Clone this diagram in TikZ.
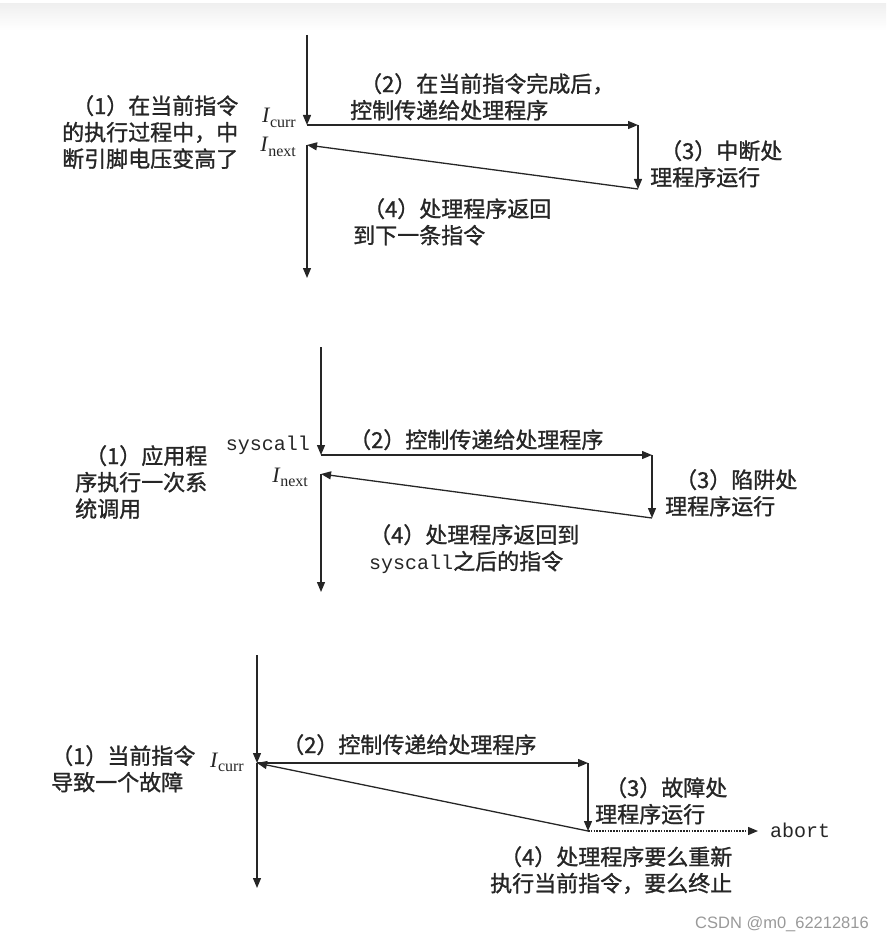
\documentclass[tikz,border=0pt]{standalone}
\usepackage{fontspec}
\setmonofont{Liberation Mono}
\newfontfamily\cjk[FakeBold=1.2]{Noto Sans CJK SC}
\newfontfamily\serif{Liberation Serif}
\usetikzlibrary{arrows.meta}

\newcommand{\firstind}{\hspace*{0.45em}}
\newcommand{\ireg}[1]{{\serif\itshape I}\kern0.5pt\raisebox{-0.22em}{\serif\fontsize{16}{16}\selectfont #1}}

\begin{document}
\begin{tikzpicture}[
                    x=1pt, y=-1pt,
                    every node/.style={inner sep=0pt, text=black!85},
                    line/.style={line width=1.3pt, draw=black!85},
                    flow/.style={line, -{Triangle[length=10pt,width=8pt]}},
                    abortflow/.style={flow, dash pattern=on 1.6pt off 1.2pt},
                    note/.style={font=\cjk\fontsize{22}{26.5}\selectfont, align=left, anchor=north west},
                    instr/.style={font=\fontsize{22}{24}\selectfont, anchor=base east},
                    code/.style={font=\ttfamily\fontsize{20}{22}\selectfont}
                ]
                    \useasboundingbox (0,0) rectangle (886,944);
                    \fill[top color=black!6, bottom color=white] (0,4) rectangle (886,30);

                    % Interrupt
                    \coordinate (topA) at (307,35);
                    \coordinate (currA) at (307,125);
                    \coordinate (nextA) at (307,145);
                    \coordinate (botA) at (307,278);
                    \coordinate (hinA) at (638,125);
                    \coordinate (houtA) at (638,189);
                    \node[instr] (icurrA) at (296,123) {\ireg{curr}};
                    \node[instr] (inextA) at (296,152) {\ireg{next}};
                    \node[note] (stepA1) at (62,95) {\firstind（1）在当前指令\\的执行过程中，中\\断引脚电压变高了};
                    \node[note] (stepA2) at (350,73) {\firstind（2）在当前指令完成后，\\控制传递给处理程序};
                    \node[note] (stepA3) at (650,140) {\firstind（3）中断处\\理程序运行};
                    \node[note] (stepA4) at (353,198) {\firstind（4）处理程序返回\\到下一条指令};

                    % Trap
                    \coordinate (topB) at (321,347);
                    \coordinate (currB) at (321,455);
                    \coordinate (nextB) at (321,474);
                    \coordinate (botB) at (321,592);
                    \coordinate (hinB) at (652,455);
                    \coordinate (houtB) at (652,518);
                    \node[code, anchor=base east] (syscallB) at (310,450) {syscall};
                    \node[instr] (inextB) at (308,482) {\ireg{next}};
                    \node[note] (stepB1) at (75,445) {\firstind（1）应用程\\序执行一次系\\统调用};
                    \node[note] (stepB2) at (349,429) {（2）控制传递给处理程序};
                    \node[note] (stepB3) at (665,469) {\firstind（3）陷阱处\\理程序运行};
                    \node[note] (stepB4) at (369,524) {（4）处理程序返回到\\{\ttfamily\fontsize{20}{22}\selectfont syscall}之后的指令};

                    % Fault
                    \coordinate (topC) at (257,655);
                    \coordinate (currC) at (257,763);
                    \coordinate (botC) at (257,888);
                    \coordinate (hinC) at (588,763);
                    \coordinate (houtC) at (588,831);
                    \node[instr] (icurrC) at (244,767) {\ireg{curr}};
                    \node[code, anchor=base west] (abortC) at (770,837) {abort};
                    \node[note] (stepC1) at (51,745) {（1）当前指令\\导致一个故障};
                    \node[note] (stepC2) at (282,734) {（2）控制传递给处理程序};
                    \node[note] (stepC3) at (595,777) {\firstind（3）故障处\\理程序运行};
                    \node[note] (stepC4) at (490,846) {\firstind（4）处理程序要么重新\\执行当前指令，要么终止};

                    \node[font=\fontsize{16.5}{18}\selectfont\serif, text=black!40, anchor=west] (mark) at (695,924) {\fontspec{Liberation Sans}CSDN @m0\_62212816};

                    % Edges
                    \draw[flow] (topA) -- (currA);
                    \draw[flow] (currA) -- (hinA);
                    \draw[flow] (hinA) -- (houtA);
                    \draw[flow] (houtA) -- (nextA);
                    \draw[flow] (nextA) -- (botA);

                    \draw[flow] (topB) -- (currB);
                    \draw[flow] (currB) -- (hinB);
                    \draw[flow] (hinB) -- (houtB);
                    \draw[flow] (houtB) -- (nextB);
                    \draw[flow] (nextB) -- (botB);

                    \draw[flow] (topC) -- (currC);
                    \draw[flow] (currC) -- (botC);
                    \draw[flow] (currC) -- (hinC);
                    \draw[flow] (hinC) -- (houtC);
                    \draw[flow] (houtC) -- (currC);
                    \draw[abortflow, shorten >=12pt] (houtC) -- (houtC -| abortC.west);
                \end{tikzpicture}
\end{document}
